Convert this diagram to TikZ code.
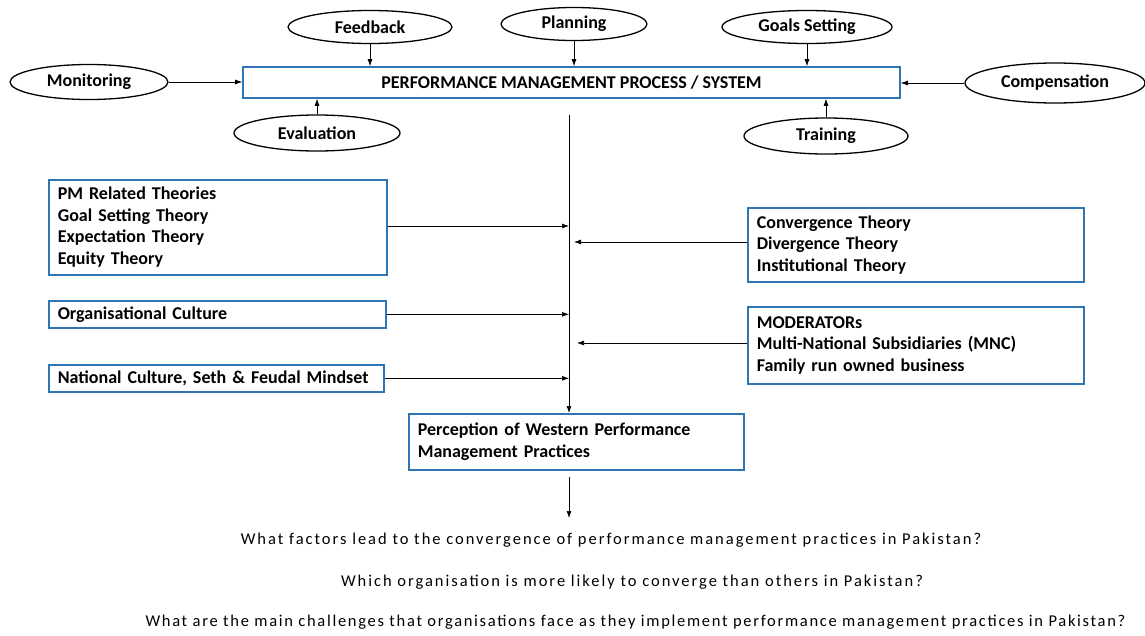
\documentclass[tikz,border=0pt]{standalone}
\usepackage{fontspec}
\setmainfont{Carlito}
\usetikzlibrary{shapes.geometric,arrows.meta}
\definecolor{boxblue}{HTML}{2E75B6}
\begin{document}
\begin{tikzpicture}[x=1pt,y=-1pt,
  every node/.style={font=\fontsize{18}{21}\selectfont\bfseries},
  oval/.style={ellipse, draw=black, line width=1.3pt, inner sep=0pt},
  pmbox/.style={draw=boxblue, line width=1.6pt, rectangle, inner sep=0pt},
  txtbox/.style={pmbox, align=left, inner xsep=9pt, anchor=north west,
    font=\fontsize{18}{21.5}\selectfont\bfseries},
  question/.style={font=\fontsize{16.5}{19}\selectfont\mdseries\addfontfeature{LetterSpace=12}},
  longquestion/.style={font=\fontsize{16.5}{19}\selectfont\mdseries\addfontfeature{LetterSpace=10.3}},
  arr/.style={-{Latex[length=7pt,width=5pt]}, line width=0.7pt},
]
\useasboundingbox (0,0) rectangle (1145,635);

% central process box and the elements feeding it
\node[pmbox, minimum width=657pt, minimum height=31pt] (main) at (571.5,82.5)
  {PERFORMANCE MANAGEMENT PROCESS / SYSTEM};

\node[oval, minimum width=158pt, minimum height=35pt] (mon) at (89,82) {Monitoring};
\node[oval, minimum width=164pt, minimum height=33pt] (fb)  at (370,27) {Feedback};
\node[oval, minimum width=146pt, minimum height=33pt] (pl)  at (574,24) {Planning};
\node[oval, minimum width=170pt, minimum height=33pt] (gs)  at (807,27) {Goals Setting};
\node[oval, minimum width=180pt, minimum height=40pt] (comp) at (1055,83) {Compensation};
\node[oval, minimum width=166pt, minimum height=36pt] (ev)  at (317,133) {Evaluation};
\node[oval, minimum width=164pt, minimum height=36pt] (tr)  at (826,136) {Training};

\draw[arr] (mon.east) -- (main.west |- mon.east);
\draw[arr] (fb.south) -- (fb.south |- main.north);
\draw[arr] (pl.south) -- (pl.south |- main.north);
\draw[arr] (gs.south) -- (gs.south |- main.north);
\draw[arr] (comp.west) -- (main.east |- comp.west);
\draw[arr] (ev.north) -- (ev.north |- main.south);
\draw[arr] (tr.north) -- (tr.north |- main.south);

% influencing factors
\node[txtbox, text width=320pt, minimum height=95pt] (pm) at (48,179)
  {PM Related Theories\\Goal Setting Theory\\Expectation Theory\\Equity Theory};
\node[txtbox, text width=319pt, minimum height=27pt] (org) at (48,300)
  {Organisational Culture};
\node[txtbox, text width=317pt, minimum height=27pt] (nat) at (48,364)
  {National Culture, Seth \& Feudal Mindset};
\node[txtbox, text width=318pt, minimum height=74pt] (conv) at (747,207)
  {Convergence Theory\\Divergence Theory\\Institutional Theory};
\node[txtbox, text width=318pt, minimum height=77pt] (mod) at (747,306)
  {MODERATORs\\Multi-National Subsidiaries (MNC)\\Family run owned business};

% outcome box
\node[txtbox, text width=317pt, minimum height=56pt] (perc) at (408,413)
  {Perception of Western Performance\\Management Practices};

% central trunk
\coordinate (ttop) at (569,115);
\draw[arr] (ttop) -- (ttop |- perc.north);

\draw[arr] (pm.east |- 0,226) -- (569,226);
\draw[arr] (org.east) -- (org.east -| ttop);
\draw[arr] (nat.east) -- (nat.east -| ttop);
\draw[arr] (conv.west |- 0,242) -- (574,242);
\draw[arr] (mod.west |- 0,343) -- (577,343);

\coordinate (pbot) at (569,477);
\coordinate (pend) at (569,518);
\draw[arr] (pbot) -- (pend);

% research questions
\node[question] (q1) at (611,540)
  {What factors lead to the convergence of performance management practices in Pakistan?};
\node[question] (q2) at (632,582)
  {Which organisation is more likely to converge than others in Pakistan?};
\node[longquestion, anchor=west] (q3) at (142,622)
  {What are the main challenges that organisations face as they implement performance management practices in Pakistan?};
\end{tikzpicture}
\end{document}
